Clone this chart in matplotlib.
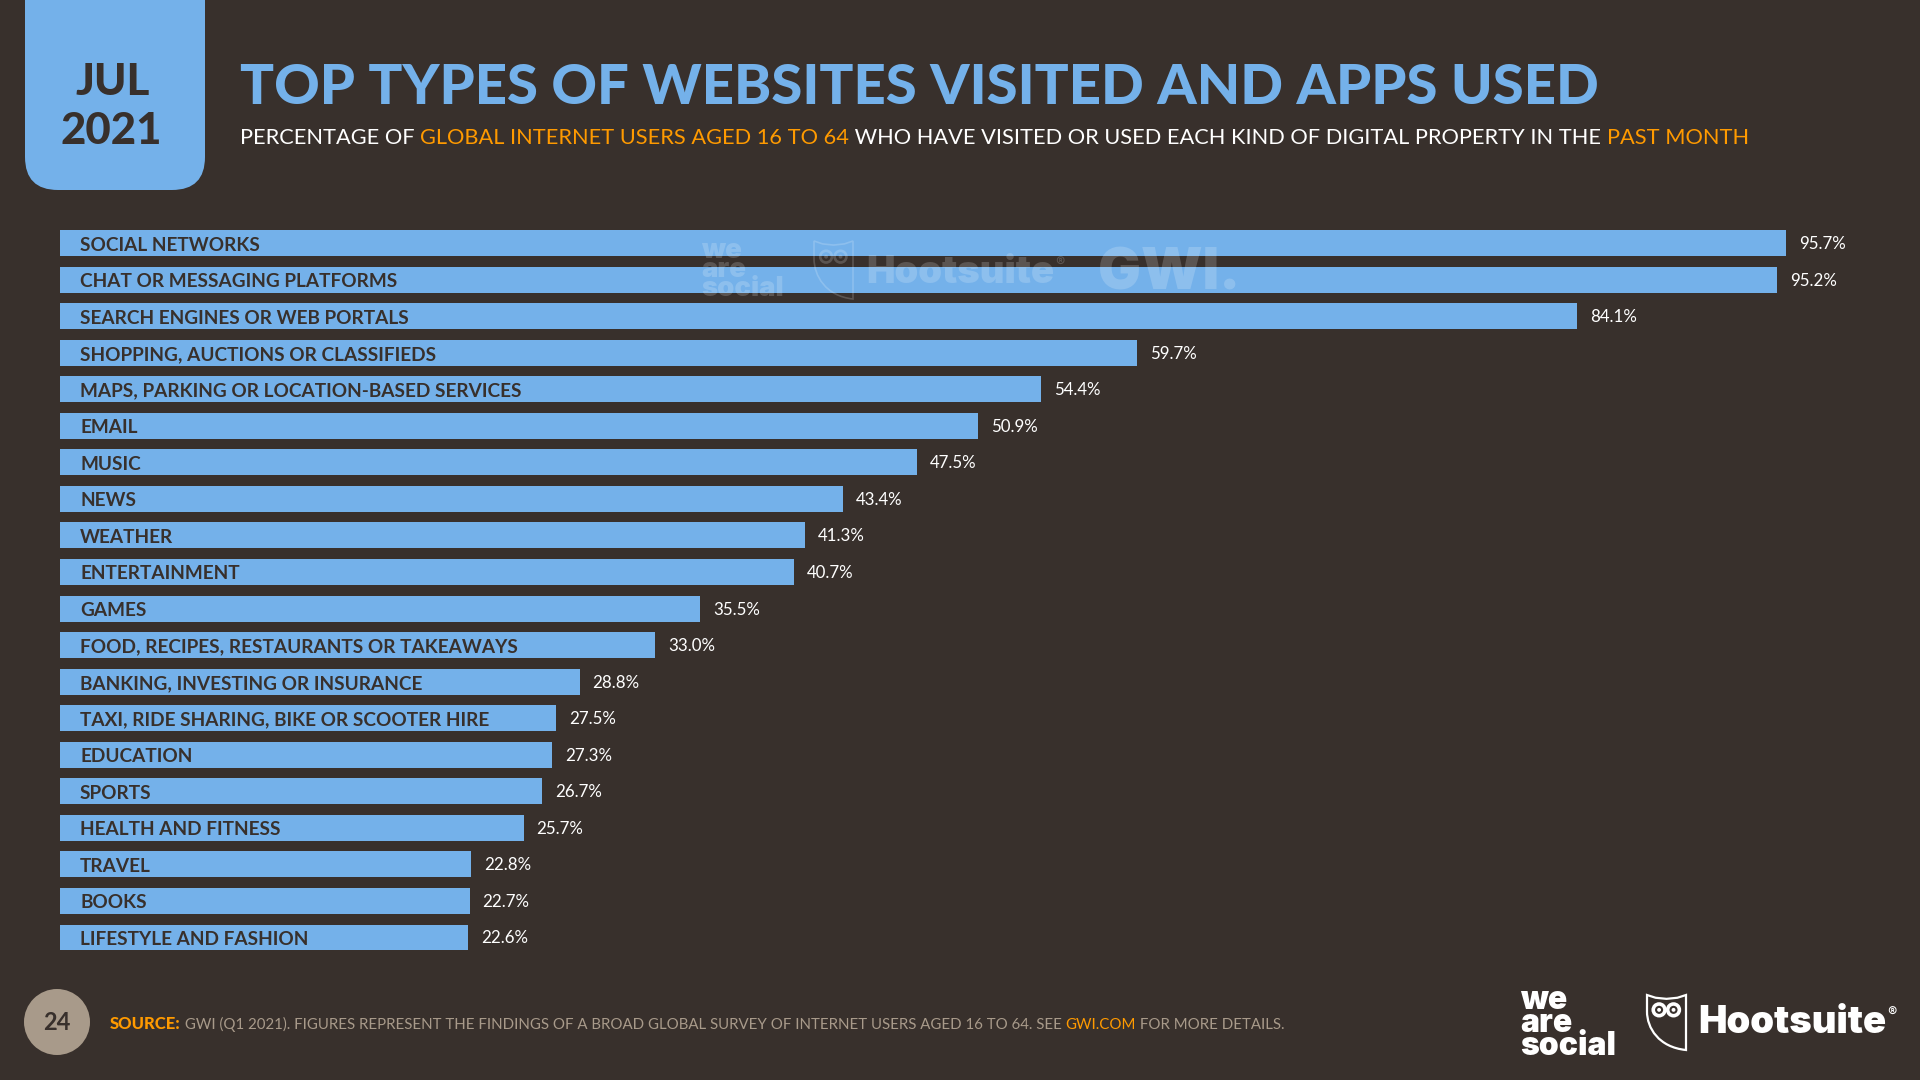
import matplotlib
matplotlib.use("Agg")
import matplotlib.pyplot as plt
import matplotlib.patches as patches
from matplotlib.path import Path

categories = ["SOCIAL NETWORKS", "CHAT OR MESSAGING PLATFORMS", "SEARCH ENGINES OR WEB PORTALS",
              "SHOPPING, AUCTIONS OR CLASSIFIEDS", "MAPS, PARKING OR LOCATION-BASED SERVICES", "EMAIL",
              "MUSIC", "NEWS", "WEATHER", "ENTERTAINMENT", "GAMES", "FOOD, RECIPES, RESTAURANTS OR TAKEAWAYS",
              "BANKING, INVESTING OR INSURANCE", "TAXI, RIDE SHARING, BIKE OR SCOOTER HIRE", "EDUCATION",
              "SPORTS", "HEALTH AND FITNESS", "TRAVEL", "BOOKS", "LIFESTYLE AND FASHION"]
values = [95.7, 95.2, 84.1, 59.7, 54.4, 50.9, 47.5, 43.4, 41.3, 40.7,
          35.5, 33.0, 28.8, 27.5, 27.3, 26.7, 25.7, 22.8, 22.7, 22.6]

title = "TOP TYPES OF WEBSITES VISITED AND APPS USED"
subtitle_parts = ["PERCENTAGE OF ", "GLOBAL INTERNET USERS AGED 16 TO 64",
                  " WHO HAVE VISITED OR USED EACH KIND OF DIGITAL PROPERTY IN THE ", "PAST MONTH"]
source_parts = ["SOURCE:", " GWI (Q1 2021). FIGURES REPRESENT THE FINDINGS OF A BROAD GLOBAL SURVEY OF INTERNET USERS AGED 16 TO 64. SEE ",
                "GWI.COM", " FOR MORE DETAILS."]

BG = "#38302c"
BLUE = "#74b1ea"
ORANGE = "#ff9a00"
TAN = "#a89a8a"
FONT = "Lato"

plt.rcParams["font.family"] = [FONT, "DejaVu Sans"]

fig = plt.figure(figsize=(19.2, 10.8), dpi=100, facecolor=BG)

# bars: 18.04 px per percentage point, 36.55 px between rows
ax = fig.add_axes([60 / 1920, 1 - 960 / 1080, 1860 / 1920, 740 / 1080])
ax.set_facecolor("none")
ax.barh(range(len(values)), values, height=0.71, color=BLUE)
ax.set_xlim(0, 1860 / 18.04)
ax.set_ylim(19 + (960 - 937.5) / 36.55, -(243 - 220) / 36.55)
ax.axis("off")

for i, (name, val) in enumerate(zip(categories, values)):
    ax.annotate(name, (0, i), xytext=(20, -7.5), textcoords="offset pixels", color=BG, fontsize=13.7,
                fontweight="bold", va="baseline", ha="left")
    ax.annotate(f"{val:.1f}%", (val, i), xytext=(13, -6), textcoords="offset pixels", color="white", fontsize=12.2,
                va="baseline", ha="left")

# everything else is laid out in pixels on a top layer
px = fig.add_axes([0, 0, 1, 1], zorder=3)
px.set_facecolor("none")
px.set_xlim(0, 1920)
px.set_ylim(1080, 0)
px.axis("off")


def text_run(x, y, parts, colors, sizes, weights):
    renderer = fig.canvas.get_renderer()
    for part, color, size, weight in zip(parts, colors, sizes, weights):
        t = px.text(x, y, part.replace(" ", "\u00a0"), color=color, fontsize=size, fontweight=weight, va="baseline")
        x += t.get_window_extent(renderer).width


def owl(x, y, w, h, color, lw, alpha=1.0):
    verts = [(x, y), (x + w * 0.22, y + h * 0.05), (x + w * 0.5, y + h * 0.07), (x + w * 0.78, y + h * 0.05),
             (x + w, y), (x + w, y + h), (x + w * 0.3, y + h * 0.95), (x, y + h * 0.6), (x, y + h * 0.3), (x, y)]
    codes = [Path.MOVETO, Path.LINETO, Path.LINETO, Path.LINETO, Path.LINETO, Path.LINETO,
             Path.CURVE4, Path.CURVE4, Path.LINETO, Path.CLOSEPOLY]
    px.add_patch(patches.PathPatch(Path(verts, codes), fc="none", ec=color, lw=lw, alpha=alpha))
    for ex in (0.31, 0.68):
        px.add_patch(patches.Ellipse((x + w * ex, y + h * 0.27), w * 0.3, w * 0.3, fc="none", ec=color, lw=lw * 1.6, alpha=alpha))
        px.add_patch(patches.Ellipse((x + w * ex, y + h * 0.27), w * 0.1, w * 0.1, fc=color, ec="none", alpha=alpha))


def logos(x, y, size, color, alpha=1.0):
    px.text(x, y, "we\nare\nsocial", color=color, fontsize=size / 1.39 * 1.25, fontweight="black", family="Inter",
            va="top", linespacing=0.66, alpha=alpha)


def hootsuite(x, y, size, color, alpha=1.0):
    t = px.text(x, y, "Hootsuite", color=color, fontsize=size, fontweight="black", family="Inter", alpha=alpha,
                va="baseline")
    end = x + t.get_window_extent(fig.canvas.get_renderer()).width
    px.text(end + 1, y - size * 0.55, "®", color=color, fontsize=size * 0.36, family="Inter", alpha=alpha,
            va="baseline")


# date tab
px.add_patch(patches.FancyBboxPatch((25, -80), 180, 270, boxstyle="round,pad=0,rounding_size=33",
                                    fc=BLUE, ec="none", mutation_aspect=1))
px.text(113, 95, "JUL", color=BG, fontsize=31.5, fontweight="black", ha="center", va="baseline")
px.text(111, 144, "2021", color=BG, fontsize=31.5, fontweight="black", ha="center", va="baseline")

px.text(240, 103.5, title, color=BLUE, fontsize=40.5, fontweight="black", va="baseline")
text_run(240, 144, subtitle_parts, ["white", ORANGE, "white", ORANGE], [15.7] * 4, ["normal"] * 4)

# watermark over the top bars
logos(701, 238, 22, "white", 0.18)
owl(814, 241, 39, 58, "white", 1.2, 0.18)
hootsuite(866, 283, 27.5, "white", 0.18)
px.text(1098, 289, "GWI.", color="white", fontsize=41, fontweight="black", family="Inter", alpha=0.18, va="baseline")

# footer
px.add_patch(patches.Circle((57, 1022), 33, fc=TAN, ec="none"))
px.text(57, 1030, "24", color=BG, fontsize=17, fontweight="bold", ha="center", va="baseline")
text_run(110, 1029, source_parts, [ORANGE, TAN, ORANGE, TAN], [12, 10.85, 10.85, 10.85], ["black", "normal", "normal", "normal"])
logos(1520, 985, 25.5, "white")
owl(1647, 995, 39, 55, "white", 1.6)
hootsuite(1698, 1033, 27.5, "white")

fig.savefig("out.png", dpi=100, facecolor=BG)
